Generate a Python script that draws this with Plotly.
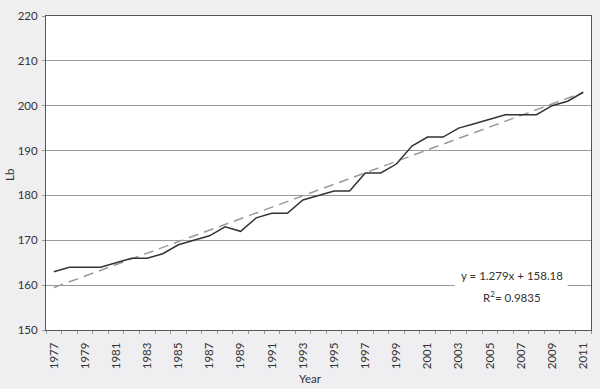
import plotly.graph_objects as go

years = list(range(1977, 2012))
lb = [163, 164, 164, 164, 165, 166, 166, 167, 169, 170, 171, 173, 172, 175, 176, 176,
      179, 180, 181, 181, 185, 185, 187, 191, 193, 193, 195, 196, 197, 198, 198, 198,
      200, 201, 203]
slope = 1.279
intercept = 158.18
r2 = 0.9835

trend = [slope * (i + 1) + intercept for i in range(len(years))]

font = "Lato, 'Open Sans', sans-serif"
fs = 11.5
fig = go.Figure()
fig.add_trace(go.Scatter(x=years, y=trend, mode="lines",
                         line=dict(color="#9a9a9a", width=1.5, dash="10px,6px"),
                         hoverinfo="skip", showlegend=False))
fig.add_trace(go.Scatter(x=years, y=lb, mode="lines",
                         line=dict(color="#333333", width=1.5), showlegend=False))

# white box interrupting the gridline behind the equation
fig.add_shape(type="rect", xref="x", yref="y", x0=2002.75, x1=2010.0, y0=158.6, y1=161.4,
              fillcolor="white", line=dict(width=0), layer="between")
fig.add_annotation(x=2006.4, y=162.1, xref="x", yref="y",
                   text=f"y = {slope}x + {intercept}", showarrow=False,
                   font=dict(size=fs, color="#333333", family=font))
fig.add_annotation(x=2006.4, y=157.4, xref="x", yref="y",
                   text=f"R<sup>2</sup>= {r2}", showarrow=False,
                   font=dict(size=fs, color="#333333", family=font))

fig.add_annotation(x=0.486, y=-0.156, xref="paper", yref="paper", text="Year",
                   xanchor="center", yanchor="middle",
                   showarrow=False, font=dict(size=fs, color="#333333", family=font))
fig.add_annotation(x=-0.066, y=0.494, xref="paper", yref="paper", text="Lb",
                   xanchor="center", yanchor="middle",
                   textangle=-90, showarrow=False,
                   font=dict(size=fs, color="#333333", family=font))

fig.update_layout(
    width=600, height=389,
    margin=dict(l=46, r=9, t=16, b=59),
    paper_bgcolor="#efeff1", plot_bgcolor="white",
    font=dict(family=font, size=fs, color="#333333"),
    xaxis=dict(range=[1976.5, 2011.5], tickmode="linear", tick0=1977, dtick=2,
               tickangle=-90, ticks="", ticklabelstandoff=7,
               minor=dict(tick0=1976.5, dtick=1, ticks="outside", ticklen=3,
                          tickcolor="#999999", showgrid=False),
               showgrid=False, showline=True, linecolor="#555555", mirror=True,
               automargin=False, zeroline=False),
    yaxis=dict(range=[150, 220], dtick=10, showgrid=True, gridcolor="#9a9a9a",
               gridwidth=1, showline=True, linecolor="#555555", mirror=True,
               ticks="outside", ticklen=3, tickcolor="#999999", ticklabelstandoff=2,
               automargin=False, zeroline=False),
)
fig.write_html("out.html", config={"displayModeBar": False},
               post_script="document.body.style.margin='0';document.body.style.background='#efeff1';")
